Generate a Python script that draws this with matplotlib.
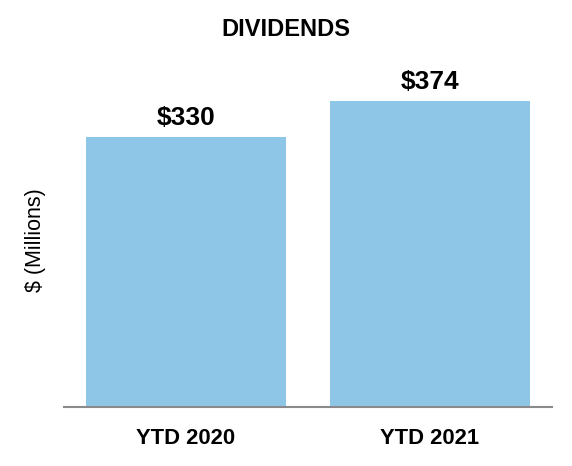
import matplotlib.pyplot as plt

# Datos
periodos = ["YTD 2020", "YTD 2021"]
dividendos = [330, 374]
etiquetas = ["$330", "$374"]

plt.rcParams['font.family'] = ['Liberation Sans', 'DejaVu Sans']

fig = plt.figure(figsize=(5.72, 4.66), dpi=100)
ax = fig.add_axes([64 / 572, 59 / 466, 488 / 572, 347 / 466])

x = range(len(periodos))
bars = ax.bar(x, dividendos, width=0.82, color='#8EC6E8')

for b, txt in zip(bars, etiquetas):
    ax.text(b.get_x() + b.get_width() / 2, b.get_height() + 9, txt,
            ha='center', va='bottom', fontsize=19, fontweight='bold')

ax.set_xlim(-0.5, 1.5)
ax.set_ylim(0, 424)
ax.set_xticks(list(x))
ax.set_xticklabels(periodos, fontsize=15.8, fontweight='bold')
ax.tick_params(axis='x', length=0, pad=15)
ax.set_yticks([])

for s in ['top', 'right', 'left']:
    ax.spines[s].set_visible(False)
ax.spines['bottom'].set_color('#8a8a8a')
ax.spines['bottom'].set_linewidth(1.5)

fig.text(35 / 572, 1 - 240 / 466, "$ (Millions)", rotation=90,
         ha='center', va='center', fontsize=15.5)
fig.text(286 / 572, 1 - 30 / 466, "DIVIDENDS", ha='center', va='center',
         fontsize=17, fontweight='bold')

fig.savefig('out.png', dpi=100)
